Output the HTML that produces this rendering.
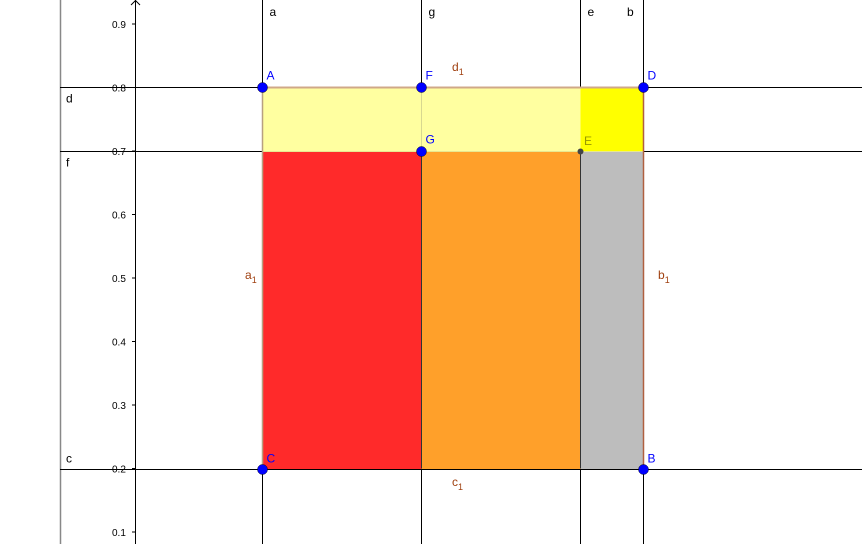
<!DOCTYPE html>
<html><head><meta charset="utf-8"><style>
body{margin:0;background:#fff;}
svg{display:block;font-family:"Liberation Sans",sans-serif;}
</style></head><body>
<svg id="c" width="862" height="544" viewBox="0 0 862 544"></svg>
<script>
const yTicks=[0.1,0.2,0.3,0.4,0.5,0.6,0.7,0.8,0.9];
const vLines=[{n:'a',v:0.2},{n:'g',v:0.45},{n:'e',v:0.7},{n:'b',v:0.8}];
const hLines=[{n:'d',v:0.8},{n:'f',v:0.7},{n:'c',v:0.2}];
const pts=[{n:'A',x:0.2,y:0.8},{n:'F',x:0.45,y:0.8},{n:'D',x:0.8,y:0.8},{n:'G',x:0.45,y:0.7},{n:'C',x:0.2,y:0.2},{n:'B',x:0.8,y:0.2}];
const rects=[
 {n:'pale-yellow-region',x0:0.2,x1:0.7,y0:0.7,y1:0.8,c:'#FFFFA0'},
 {n:'yellow-region',x0:0.7,x1:0.8,y0:0.7,y1:0.8,c:'#FFFF00'},
 {n:'red-region',x0:0.2,x1:0.45,y0:0.2,y1:0.7,c:'#FF2A2A'},
 {n:'orange-region',x0:0.45,x1:0.7,y0:0.2,y1:0.7,c:'#FFA02A'},
 {n:'grey-region',x0:0.7,x1:0.8,y0:0.2,y1:0.7,c:'#BDBDBD'}];
const X=v=>135+v*635, Y=v=>24+(0.9-v)*635;
const svg=document.getElementById('c'),NS='http://www.w3.org/2000/svg';
function mk(t,a,p){const e=document.createElementNS(NS,t);for(const k in a)e.setAttribute(k,a[k]);(p||svg).appendChild(e);return e;}
function tx(s,x,y,col,size,name){const e=mk('text',{x:x,y:y,fill:col,'font-size':size});e.textContent=s;

return e;}
// left border line
let e=mk('line',{x1:60.5,y1:0,x2:60.5,y2:544,stroke:'#888','stroke-width':1.5});


// y axis
e=mk('line',{x1:135.5,y1:0,x2:135.5,y2:544,stroke:'#000'});


e=mk('path',{d:'M131,5 L135.5,0.5 L140,5',fill:'none',stroke:'#000'});


yTicks.forEach(v=>{const y=Y(v);
 e=mk('line',{x1:132,y1:y,x2:136,y2:y,stroke:'#000'});
 
 
 tx(v.toFixed(1),112,y+4,'#000',10,'y-tick-label');});
hLines.forEach(h=>{const y=Math.round(Y(h.v))+0.5;
 e=mk('line',{x1:60,y1:y,x2:862,y2:y,stroke:'#000'});
 
 
 tx(h.n,66,y+(h.n==='c'?-7:15),'#000',12,'line-label-'+h.n);});
vLines.forEach(l=>{const x=Math.round(X(l.v))+0.5;
 e=mk('line',{x1:x,y1:0,x2:x,y2:544,stroke:'#000'});
 
 
 tx(l.n,l.n==='b'?627:x+7,16,'#000',12,'line-label-'+l.n);});
rects.forEach(r=>{const x0=Math.round(X(r.x0))+0.5,x1=Math.round(X(r.x1))+0.5,y0=Math.round(Y(r.y1))+0.5,y1=Math.round(Y(r.y0))+0.5;
 e=mk('rect',{x:x0,y:y0,width:x1-x0,height:y1-y0,fill:r.c});
 
 });
// inner faint lines
const gx=Math.round(X(0.45))+0.5, ex=Math.round(X(0.7))+0.5, fy=Math.round(Y(0.7))+0.5;
mk('line',{x1:gx,y1:Y(0.8),x2:gx,y2:fy,stroke:'#d8d890'});
mk('line',{x1:Math.round(X(0.2)),y1:fy,x2:Math.round(X(0.8)),y2:fy,stroke:'#e8e890'});
mk('line',{x1:gx,y1:fy,x2:gx,y2:Y(0.2),stroke:'#333'});
mk('line',{x1:ex,y1:fy,x2:ex,y2:Y(0.2),stroke:'#333'});
// square border
const sx0=Math.round(X(0.2))+0.5,sx1=Math.round(X(0.8))+0.5,sy0=Math.round(Y(0.8))+0.5,sy1=Math.round(Y(0.2))+0.5;
e=mk('line',{x1:sx0,y1:sy0,x2:sx1,y2:sy0,stroke:'#D0A888','stroke-width':2});


e=mk('line',{x1:sx0,y1:sy0,x2:sx0,y2:sy1,stroke:'#B8A080','stroke-width':1.5});


e=mk('line',{x1:sx1,y1:sy0,x2:sx1,y2:sy1,stroke:'#B06040','stroke-width':1.5});


e=mk('line',{x1:sx0,y1:sy1,x2:sx1,y2:sy1,stroke:'#000','stroke-width':1});


// segment labels
const br='#A04010';
function sub(s,x,y,name){const t=tx(s,x,y,br,12,name);const ts=mk('tspan',{dy:4,'font-size':9},t);ts.textContent='1';}
sub('a',245,279,'label-a1');sub('b',658,279,'label-b1');sub('c',452,486,'label-c1');sub('d',452,71,'label-d1');
// point E
e=mk('circle',{cx:ex,cy:fy,r:3,fill:'#444'});


tx('E',584,145,'#999900',12,'point-label-E');
pts.forEach(p=>{const cx=Math.round(X(p.x))+0.5,cy=Math.round(Y(p.y))+0.5;
 e=mk('circle',{cx:cx,cy:cy,r:5,fill:'#0000FF',stroke:'#000033','stroke-width':0.5});
 
 
 tx(p.n,cx+4,cy-(p.y===0.2?7:8),'#0000FF',12,'point-label-'+p.n);});
</script>
</body></html>
